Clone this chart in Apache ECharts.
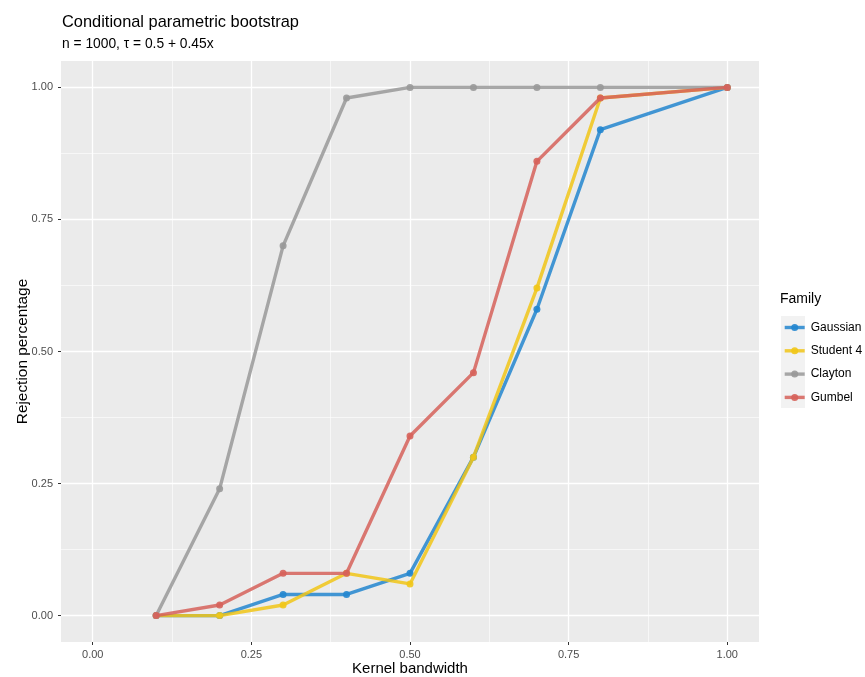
<!DOCTYPE html>
<html><head><meta charset="utf-8">
<script src="https://cdn.jsdelivr.net/npm/echarts@6/dist/echarts.min.js"></script>
<style>html,body{margin:0;padding:0;background:#fff}#c{width:865px;height:677px}</style>
</head><body><div id="c"></div>
<script>
const bandwidth = [0.1, 0.2, 0.3, 0.4, 0.5, 0.6, 0.7, 0.8, 1.0];
const gaussian  = [0, 0, 0.04, 0.04, 0.08, 0.30, 0.58, 0.92, 1.00];
const student4  = [0, 0, 0.02, 0.08, 0.06, 0.30, 0.62, 0.98, 1.00];
const clayton   = [0, 0.24, 0.70, 0.98, 1.00, 1.00, 1.00, 1.00, 1.00];
const gumbel    = [0, 0.02, 0.08, 0.08, 0.34, 0.46, 0.86, 0.98, 1.00];
const majorTicks = [0, 0.25, 0.5, 0.75, 1.0];
const minorTicks = [0.125, 0.375, 0.625, 0.875];
const familyNames = ['Gaussian', 'Student 4', 'Clayton', 'Gumbel'];
const familyColors = ['#2386CF', '#F1C618', '#999999', '#D6625A'];
const familyValues = [gaussian, student4, clayton, gumbel];

const FONT = '"Liberation Sans", Arial, sans-serif';
const chart = echarts.init(document.getElementById('c'), null, {renderer: 'canvas'});
const fmt = v => v.toFixed(2);

function makeAxis(isX, primary) {
  const ax = {
    type: 'value', min: -0.05, max: 1.05, gridIndex: 0,
    position: isX ? 'bottom' : 'left',
    axisLine: {show: false, onZero: false},
    axisTick: primary ? {show: true, length: 3, lineStyle: {color: '#333', width: 1}, customValues: majorTicks}
                      : {show: false, customValues: minorTicks},
    axisLabel: primary ? {show: true, color: '#4D4D4D', fontSize: 11, fontFamily: FONT, margin: isX ? 7 : 8,
                          customValues: majorTicks, formatter: fmt}
                       : {show: false},
    splitLine: {show: true, lineStyle: {color: '#FFFFFF', width: primary ? 1.3 : 0.6}},
    z: primary ? 2 : 1
  };
  if (primary) {
    ax.name = isX ? 'Kernel bandwidth' : 'Rejection percentage';
    ax.nameLocation = 'middle';
    ax.nameMoveOverlap = false;
    ax.nameGap = isX ? 19 : 31;
    ax.nameTextStyle = {color: '#000', fontSize: isX ? 15 : 15.4, fontFamily: FONT};
  }
  return ax;
}

const series = familyNames.map((name, k) => ({
  name: name, type: 'line', xAxisIndex: 0, yAxisIndex: 0,
  data: bandwidth.map((x, i) => [x, familyValues[k][i]]),
  symbol: 'circle', symbolSize: 7, showSymbol: true,
  lineStyle: {color: familyColors[k], width: 3.4, opacity: 0.85},
  itemStyle: {color: familyColors[k], opacity: 0.9},
  emphasis: {disabled: true}, animation: false, z: 3 + k
}));

chart.setOption({
  animation: false,
  backgroundColor: '#FFFFFF',
  textStyle: {fontFamily: FONT},
  title: {
    text: 'Conditional parametric bootstrap',
    subtext: 'n = 1000, τ = 0.5 + 0.45x',
    left: 57, top: 9, itemGap: 7,
    textStyle: {fontSize: 16.4, fontWeight: 'normal', color: '#000', fontFamily: FONT},
    subtextStyle: {fontSize: 13.8, color: '#000', fontFamily: FONT}
  },
  grid: {left: 61, right: 106, top: 61, bottom: 35, show: true, backgroundColor: '#EBEBEB', borderWidth: 0,
         outerBoundsMode: 'none', containLabel: false},
  xAxis: [makeAxis(true, true), makeAxis(true, false)],
  yAxis: [makeAxis(false, true), makeAxis(false, false)],
  legend: {
    orient: 'vertical', left: 783, top: 321.5, padding: 0,
    itemWidth: 20, itemHeight: 8.75, itemGap: 11.3,
    data: familyNames,
    lineStyle: {width: 3.4},
    textStyle: {fontSize: 12, color: '#000', fontFamily: FONT, padding: [0, 0, 0, 1]},
    selectedMode: false
  },
  graphic: [
    {type: 'text', left: 780, top: 292, style: {text: 'Family', fontSize: 14, fill: '#000', fontFamily: FONT}},
    {type: 'rect', left: 781, top: 316, shape: {width: 24, height: 92}, style: {fill: '#F2F2F2'}, z: -1}
  ],
  series: series
});
</script></body></html>
